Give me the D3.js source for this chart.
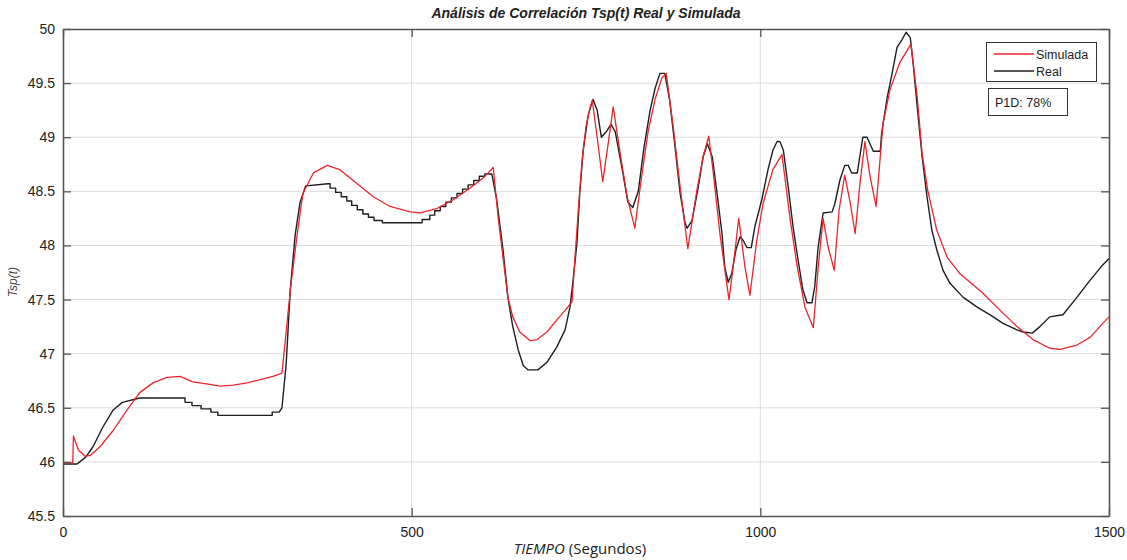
<!DOCTYPE html>
<html>
<head>
<meta charset="utf-8">
<script src="https://cdn.jsdelivr.net/npm/d3@7"></script>
<style>
  html, body { margin: 0; padding: 0; background: #fff; }
  svg { display: block; }
</style>
</head>
<body>
<svg id="chart" width="1127" height="560"></svg>
<script>
// ---- Data ----
const titleText = "Análisis de Correlación Tsp(t) Real y Simulada";
const xTicks = [0, 500, 1000, 1500];
const yTicks = [45.5, 46, 46.5, 47, 47.5, 48, 48.5, 49, 49.5, 50];

const realT = [0,20,24,32,43,57,72,85,110,168,175,175,185,185,198,198,212,212,222,222,300,300,310,314,320,326,333,340,348,380,383,383,391,391,399,399,407,407,414,414,422,422,430,430,438,438,446,446,458,458,508,515,515,526,526,533,533,541,541,549,549,557,557,565,565,573,573,581,581,589,589,597,597,605,605,615,622,631,638,645,653,660,667,681,694,708,720,727,731,737,741,746,753,760,766,772,779,786,792,802,810,817,825,833,842,849,856,863,870,877,885,892,895,902,911,918,924,931,938,945,949,954,959,965,971,975,981,987,992,1002,1011,1018,1024,1028,1033,1040,1047,1054,1061,1067,1074,1078,1083,1090,1103,1107,1114,1121,1126,1131,1139,1147,1153,1162,1172,1174,1182,1189,1196,1203,1209,1215,1219,1225,1232,1239,1246,1253,1262,1272,1291,1311,1329,1348,1368,1377,1390,1401,1415,1434,1454,1473,1491,1500];
const realV = [45.98,45.98,46.0,46.04,46.14,46.32,46.48,46.55,46.59,46.59,46.59,46.55,46.55,46.52,46.52,46.49,46.49,46.46,46.46,46.43,46.43,46.46,46.46,46.5,46.9,47.6,48.1,48.4,48.55,48.57,48.57,48.53,48.53,48.49,48.49,48.45,48.45,48.41,48.41,48.37,48.37,48.33,48.33,48.29,48.29,48.26,48.26,48.23,48.23,48.21,48.21,48.21,48.24,48.24,48.28,48.28,48.32,48.32,48.36,48.36,48.4,48.4,48.44,48.44,48.48,48.48,48.52,48.52,48.56,48.56,48.6,48.6,48.64,48.64,48.66,48.66,48.42,47.96,47.52,47.25,47.03,46.89,46.85,46.85,46.92,47.06,47.22,47.43,47.65,48.02,48.48,48.88,49.2,49.35,49.25,49.0,49.05,49.12,49.05,48.7,48.4,48.35,48.5,48.9,49.25,49.45,49.59,49.59,49.34,48.95,48.48,48.21,48.16,48.23,48.54,48.82,48.94,48.82,48.48,48.11,47.8,47.66,47.74,47.96,48.08,48.05,47.98,47.98,48.17,48.42,48.7,48.88,48.96,48.96,48.88,48.54,48.17,47.87,47.59,47.47,47.47,47.62,47.99,48.3,48.31,48.39,48.6,48.74,48.74,48.67,48.67,49.0,49.0,48.87,48.87,49.04,49.37,49.59,49.83,49.9,49.97,49.92,49.69,49.28,48.82,48.45,48.14,47.96,47.77,47.65,47.52,47.43,47.36,47.28,47.22,47.2,47.19,47.25,47.34,47.36,47.52,47.68,47.82,47.88];

const simT = [0,14,15,22,32,39,53,72,92,110,129,149,168,186,206,225,244,264,283,301,314,320,326,336,344,359,379,397,422,445,469,498,512,536,559,584,602,617,624,631,638,645,655,670,680,694,708,720,730,734,739,744,750,756,759,766,774,782,789,799,809,820,829,839,849,859,865,875,885,896,909,918,926,932,942,955,961,969,978,985,995,1004,1018,1031,1043,1053,1064,1076,1083,1090,1097,1106,1113,1121,1129,1136,1143,1150,1157,1166,1176,1186,1200,1216,1225,1232,1240,1253,1268,1286,1319,1344,1368,1391,1415,1430,1454,1473,1491,1500];
const simV = [45.99,45.99,46.24,46.11,46.05,46.06,46.14,46.29,46.48,46.64,46.73,46.78,46.79,46.74,46.72,46.7,46.71,46.73,46.76,46.79,46.82,47.2,47.59,48.11,48.48,48.67,48.74,48.7,48.57,48.45,48.36,48.31,48.3,48.34,48.42,48.53,48.62,48.72,48.26,47.89,47.52,47.34,47.2,47.12,47.13,47.2,47.31,47.4,47.48,47.87,48.33,48.76,49.1,49.28,49.34,49.0,48.59,48.95,49.28,48.85,48.45,48.16,48.6,49.05,49.35,49.55,49.59,49.1,48.54,47.97,48.51,48.82,49.01,48.7,48.11,47.5,47.8,48.25,47.8,47.54,48.05,48.39,48.7,48.84,48.23,47.8,47.43,47.24,47.8,48.25,47.99,47.77,48.33,48.65,48.39,48.11,48.58,48.96,48.65,48.36,49.13,49.44,49.69,49.86,49.37,48.85,48.51,48.14,47.89,47.74,47.56,47.4,47.25,47.13,47.05,47.04,47.08,47.15,47.28,47.34];

const seriesNames = ["Simulada", "Real"];
const seriesColors = ["#e8262c", "#1e1e1e"];
const fitLabel = "P1D: 78%";

// ---- Layout ----
const svg = d3.select("#chart");
const mL = 63, mR = 1109, mT = 29, mB = 516;
const x = d3.scaleLinear().domain([0, 1500]).range([mL, mR]);
const y = d3.scaleLinear().domain([45.5, 50]).range([mB, mT]);

// grid
svg.append("g").selectAll("line").data(yTicks.slice(1, -1)).join("line")
  .attr("x1", mL).attr("x2", mR)
  .attr("y1", d => y(d)).attr("y2", d => y(d))
  .attr("stroke", "#dcdcdc").attr("stroke-width", 1);
svg.append("g").selectAll("line").data(xTicks.slice(1, -1)).join("line")
  .attr("y1", mT).attr("y2", mB)
  .attr("x1", d => x(d)).attr("x2", d => x(d))
  .attr("stroke", "#dcdcdc").attr("stroke-width", 1);

// lines
const line = (T, V) => d3.line().x((d, i) => x(T[i])).y((d, i) => y(V[i]))(T);
svg.append("path").attr("d", line(realT, realV))
  .attr("fill", "none").attr("stroke", seriesColors[1]).attr("stroke-width", 1.4)
  .attr("stroke-linejoin", "round");
svg.append("path").attr("d", line(simT, simV))
  .attr("fill", "none").attr("stroke", seriesColors[0]).attr("stroke-width", 1.3)
  .attr("stroke-linejoin", "round");

// axes (inward ticks, box)
const axColor = "#555";
const yAxisL = d3.axisLeft(y).tickValues(yTicks).tickSize(-8).tickSizeOuter(0).tickPadding(8).tickFormat(d3.format("~g"));
const yAxisR = d3.axisRight(y).tickValues(yTicks).tickSize(-8).tickSizeOuter(0).tickFormat("");
const xAxisB = d3.axisBottom(x).tickValues(xTicks).tickSize(-8).tickSizeOuter(0).tickPadding(11).tickFormat(d3.format("d"));
const xAxisT = d3.axisTop(x).tickValues(xTicks).tickSize(-8).tickSizeOuter(0).tickFormat("");

function styleAxis(g) {
  g.select(".domain").attr("stroke", axColor).attr("stroke-width", 1.6);
  g.selectAll(".tick line").attr("stroke", axColor).attr("stroke-width", 1.3);
  g.selectAll(".tick text").attr("fill", "#222").style("font-family", "Liberation Sans, Arial, sans-serif").style("font-size", "14px");
}
svg.append("g").attr("transform", `translate(${mL},0)`).call(yAxisL).call(styleAxis);
svg.append("g").attr("transform", `translate(${mR},0)`).call(yAxisR).call(styleAxis);
svg.append("g").attr("transform", `translate(0,${mB})`).call(xAxisB).call(styleAxis);
svg.append("g").attr("transform", `translate(0,${mT})`).call(xAxisT).call(styleAxis);

// title
svg.append("text").attr("x", (mL + mR) / 2).attr("y", 18)
  .attr("text-anchor", "middle")
  .style("font-family", "Liberation Sans Narrow, Arial Narrow, Liberation Sans, sans-serif")
  .style("font-size", "14px").style("font-style", "italic").style("font-weight", "bold")
  .attr("fill", "#222").text(titleText);

// axis labels
const xl = svg.append("text").attr("x", 580).attr("y", 554).attr("text-anchor", "middle")
  .style("font-family", "Open Sans, Liberation Sans, sans-serif").style("font-size", "15px").attr("fill", "#222");
xl.append("tspan").style("font-style", "italic").text("TIEMPO");
xl.append("tspan").text(" (Segundos)");

svg.append("text").attr("transform", "translate(17,282) rotate(-90)").attr("text-anchor", "middle")
  .style("font-family", "Liberation Sans, Arial, sans-serif").style("font-size", "12px").style("font-style", "italic")
  .attr("fill", "#444").text("Tsp(t)");

// legend
const lg = svg.append("g");
lg.append("rect").attr("x", 986.5).attr("y", 42.5).attr("width", 110).attr("height", 39)
  .attr("fill", "#fff").attr("stroke", "#333").attr("stroke-width", 1);
seriesNames.forEach((n, i) => {
  const yy = 54 + i * 17;
  lg.append("line").attr("x1", 994).attr("x2", 1034).attr("y1", yy).attr("y2", yy)
    .attr("stroke", seriesColors[i]).attr("stroke-width", 1.3);
  lg.append("text").attr("x", 1036).attr("y", yy + 4.5)
    .style("font-family", "Liberation Sans, Arial, sans-serif").style("font-size", "12.5px").attr("fill", "#222").text(n);
});
svg.append("rect").attr("x", 988.5).attr("y", 88.5).attr("width", 79).attr("height", 27)
  .attr("fill", "#fff").attr("stroke", "#333").attr("stroke-width", 1);
svg.append("text").attr("x", 995).attr("y", 106.5)
  .style("font-family", "Liberation Sans, Arial, sans-serif").style("font-size", "12.5px").attr("fill", "#222").text(fitLabel);
</script>
</body>
</html>
